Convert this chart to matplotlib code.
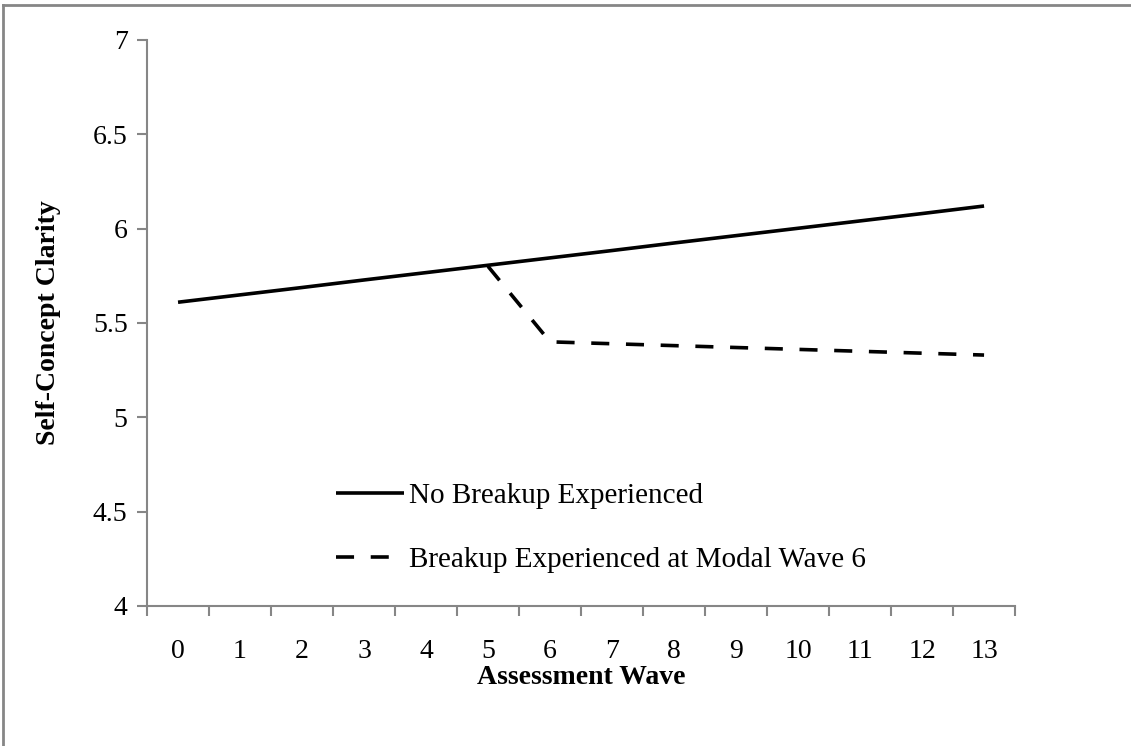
import matplotlib
matplotlib.use("Agg")
import matplotlib.pyplot as plt
from matplotlib.lines import Line2D

plt.rcParams['font.family'] = ['Liberation Serif', 'DejaVu Serif']
plt.rcParams['lines.scale_dashes'] = False

waves = list(range(14))
wave_labels = [str(w) for w in waves]
no_breakup = [5.610, 5.649, 5.688, 5.728, 5.767, 5.806, 5.845, 5.884,
              5.924, 5.963, 6.002, 6.041, 6.080, 6.120]
breakup_waves = [5, 6, 7, 8, 9, 10, 11, 12, 13]
breakup = [5.80, 5.40, 5.39, 5.38, 5.37, 5.36, 5.35, 5.34, 5.33]
y_ticks = [4, 4.5, 5, 5.5, 6, 6.5, 7]
y_tick_labels = ["4", "4.5", "5", "5.5", "6", "6.5", "7"]

fig = plt.figure(figsize=(11.31, 7.46), dpi=100)
ax = fig.add_axes([0.130, 0.1877, 0.7675, 0.7587])

l1, = ax.plot(waves, no_breakup, color='black', lw=2.6, solid_capstyle='butt',
              label='No Breakup Experienced')
l2, = ax.plot(breakup_waves, breakup, color='black', lw=2.6, dashes=(13, 12),
              dash_capstyle='butt', label='Breakup Experienced at Modal Wave 6')

ax.set_xlim(-0.5, 13.5)
ax.set_ylim(4, 7)

gray = '#868686'
for s in ['top', 'right']:
    ax.spines[s].set_visible(False)
for s in ['left', 'bottom']:
    ax.spines[s].set_color(gray)
    ax.spines[s].set_linewidth(1.5)

# x axis: boundary tick marks, labels centered in categories
ax.set_xticks([w - 0.5 for w in waves] + [13.5])
ax.set_xticklabels([])
ax.set_xticks(waves, minor=True)
ax.set_xticklabels(wave_labels, minor=True, fontsize=20)
ax.tick_params(axis='x', which='major', direction='out', length=7, width=1.5, color=gray)
ax.tick_params(axis='x', which='minor', length=0, pad=24)

ax.set_yticks(y_ticks)
ax.set_yticklabels(y_tick_labels, fontsize=20)
ax.tick_params(axis='y', which='major', direction='out', length=7, width=1.5, color=gray, pad=7)

ax.set_xlabel('Assessment Wave', fontsize=20, fontweight='bold')
ax.xaxis.set_label_coords(0.5, -0.105)
ax.set_ylabel('Self-Concept Clarity', fontsize=20, fontweight='bold')
ax.yaxis.set_label_coords(-0.099, 0.5)

leg = ax.legend(handles=[l1, l2], loc='upper left', bbox_to_anchor=(0.204, 0.238),
                frameon=False, fontsize=21, handlelength=2.35, handletextpad=0.15,
                labelspacing=1.29, borderaxespad=0)

# figure border (top and left edges)
fig.add_artist(Line2D([0.003, 1.0], [0.993, 0.993], transform=fig.transFigure,
                      color=gray, lw=2))
fig.add_artist(Line2D([0.003, 0.003], [0.0, 0.993], transform=fig.transFigure,
                      color=gray, lw=2))

fig.savefig('out.png', dpi=100)
